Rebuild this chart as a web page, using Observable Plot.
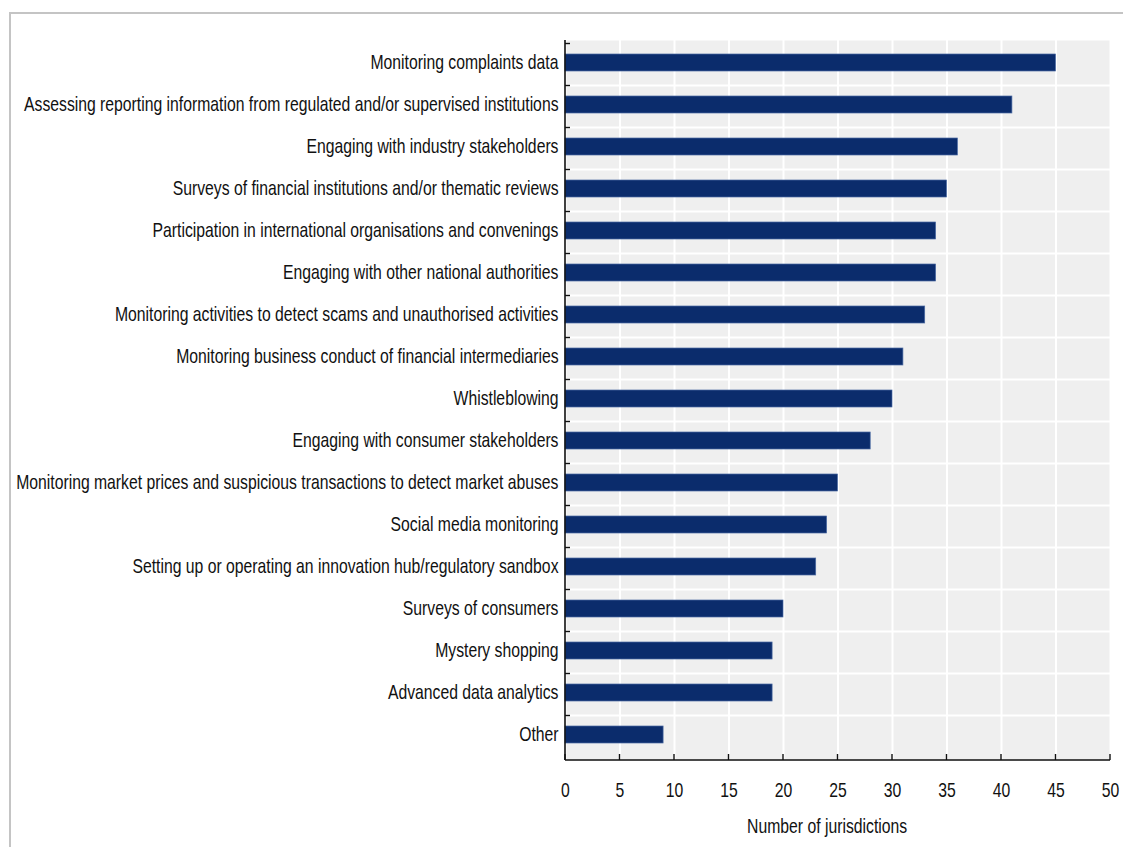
<!DOCTYPE html>
<html>
<head>
<meta charset="utf-8">
<script src="https://cdn.jsdelivr.net/npm/d3@7"></script>
<script src="https://cdn.jsdelivr.net/npm/@observablehq/plot@0.6"></script>
<style>
  html, body { margin: 0; padding: 0; background: #fff; }
  #wrap { position: relative; width: 1123px; height: 847px; overflow: hidden; }
  #frameTop { position: absolute; left: 10px; top: 12px; width: 1113px; height: 2px; background: #c4c4c4; }
  #frameLeft { position: absolute; left: 9px; top: 12px; width: 2px; height: 835px; background: #c4c4c4; }
  #chart { position: absolute; left: 0; top: 0; }
  svg text { font-family: "Liberation Sans", Arial, sans-serif; }
</style>
</head>
<body>
<div id="wrap">
  <div id="frameTop"></div>
  <div id="frameLeft"></div>
  <div id="chart"></div>
</div>
<script>
const categories = [
  "Monitoring complaints data",
  "Assessing reporting information from regulated and/or supervised institutions",
  "Engaging with industry stakeholders",
  "Surveys of financial institutions and/or thematic reviews",
  "Participation in international organisations and convenings",
  "Engaging with other national authorities",
  "Monitoring activities to detect scams and unauthorised activities",
  "Monitoring business conduct of financial intermediaries",
  "Whistleblowing",
  "Engaging with consumer stakeholders",
  "Monitoring market prices and suspicious transactions to detect market abuses",
  "Social media monitoring",
  "Setting up or operating an innovation hub/regulatory sandbox",
  "Surveys of consumers",
  "Mystery shopping",
  "Advanced data analytics",
  "Other"
];
const values = [45, 41, 36, 35, 34, 34, 33, 31, 30, 28, 25, 24, 23, 20, 19, 19, 9];
const xTicks = [0, 5, 10, 15, 20, 25, 30, 35, 40, 45, 50];
const xLabel = "Number of jurisdictions";

const data = categories.map((c, i) => ({category: c, value: values[i]}));

const W = 1123, H = 847, mL = 565, mR = 13, mT = 40, mB = 87;
const pad = 0.59;
const FS = 21;        // font size
const SX = 0.75;      // horizontal condensing (narrow face look)

function axisLines(index, scales, vals, dims) {
  const x = scales.x, y = scales.y;
  const step = y.step();
  const bw = y.bandwidth();
  const g = d3.create("svg:g").attr("stroke", "#111").attr("fill", "none");
  const yTop = dims.marginTop;
  const yBot = dims.height - dims.marginBottom;
  const x0 = x(0), x1 = x(50);
  g.append("line").attr("x1", x0).attr("x2", x0).attr("y1", yTop).attr("y2", yBot).attr("stroke-width", 1.6);
  g.append("line").attr("x1", x0).attr("x2", x1).attr("y1", yBot).attr("y2", yBot).attr("stroke-width", 1.6);
  for (const t of xTicks) {
    g.append("line").attr("x1", x(t)).attr("x2", x(t)).attr("y1", yBot).attr("y2", yBot - 6).attr("stroke-width", 1.4);
  }
  for (const c of categories) {
    const yy = y(c) + bw / 2 - step / 2 + 1;
    g.append("line").attr("x1", x0).attr("x2", x0 + 5).attr("y1", yy).attr("y2", yy).attr("stroke-width", 1.4);
  }
  return g.node();
}

function bandLines(index, scales, vals, dims) {
  const x = scales.x, y = scales.y;
  const step = y.step();
  const bw = y.bandwidth();
  const g = d3.create("svg:g").attr("stroke", "#fff").attr("stroke-width", 2);
  categories.forEach((c, i) => {
    if (i === 0) return;
    const yy = y(c) + bw / 2 - step / 2 + 1;
    g.append("line").attr("x1", x(0)).attr("x2", x(50)).attr("y1", yy).attr("y2", yy);
  });
  return g.node();
}

const chart = Plot.plot({
  width: W,
  height: H,
  marginLeft: mL,
  marginRight: mR,
  marginTop: mT,
  marginBottom: mB,
  style: {background: "transparent", fontSize: FS + "px", color: "#111"},
  x: {domain: [0, 50], ticks: xTicks},
  y: {domain: categories, paddingInner: pad, paddingOuter: pad / 2},
  marks: [
    Plot.frame({fill: "#efefef", stroke: null}),
    Plot.gridX(xTicks, {stroke: "#fff", strokeOpacity: 1, strokeWidth: 2}),
    bandLines,
    Plot.barX(data, {x: "value", y: "category", fill: "#0b2c6c", stroke: "#4a6aa3", strokeWidth: 0.7, dy: -1}),
    axisLines,
    Plot.axisX(xTicks, {tickSize: 0, tickPadding: 22, fontSize: FS, label: null, fill: "#111"}),
    Plot.axisY({tickSize: 0, tickPadding: 7, fontSize: FS, label: null, fill: "#111", dy: -2}),
    Plot.text([xLabel], {frameAnchor: "bottom", dy: 72, fontSize: FS, fill: "#111", x: 24})
  ]
});

chart.querySelectorAll("text").forEach(t => {
  const tr = t.getAttribute("transform");
  if (tr) {
    t.setAttribute("transform", tr + ` scale(${SX},1)`);
  } else {
    const x = +(t.getAttribute("x") || 0), y = +(t.getAttribute("y") || 0);
    t.removeAttribute("x"); t.removeAttribute("y");
    t.setAttribute("transform", `translate(${x},${y}) scale(${SX},1)`);
  }
});
document.getElementById("chart").appendChild(chart);
</script>
</body>
</html>
